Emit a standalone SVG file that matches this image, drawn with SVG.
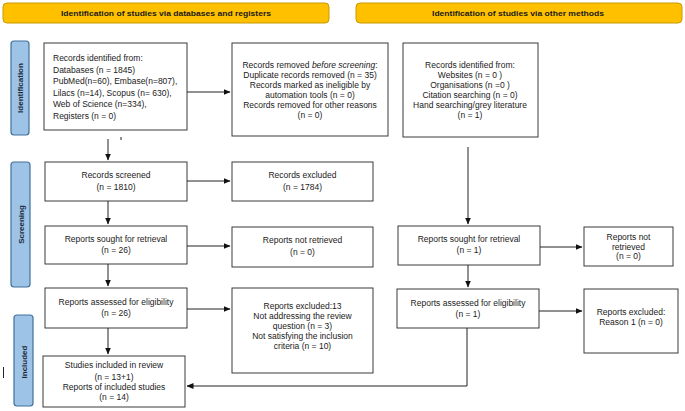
<svg xmlns="http://www.w3.org/2000/svg" width="685" height="411" viewBox="0 0 685 411">
<defs>
<marker id="ah" markerWidth="7" markerHeight="6" refX="6.5" refY="3" orient="auto" markerUnits="userSpaceOnUse">
<path d="M0,0 L7,3 L0,6 Z" fill="#111"/>
</marker>
<style>
.hdr{fill:#FFC000;stroke:#C99A00;stroke-width:1}
.hdrt{font-family:"Liberation Sans",Arial,sans-serif;font-weight:bold;font-size:8px;fill:#1a1a1a;text-anchor:middle}
.side{fill:#9DC3E6;stroke:#41719C;stroke-width:1.2}
.sidet{font-family:"Liberation Sans",Arial,sans-serif;font-weight:bold;font-size:8px;fill:#1f2a3a;text-anchor:middle}
.box{fill:#fff;stroke:#3a3a3a;stroke-width:1}
.t{font-family:"Liberation Sans",Arial,sans-serif;font-size:8.5px;fill:#1a1a1a;text-anchor:middle}
.tl{font-family:"Liberation Sans",Arial,sans-serif;font-size:8.5px;fill:#1a1a1a}
.c{fill:none;stroke:#222;stroke-width:1;marker-end:url(#ah)}
.cn{fill:none;stroke:#222;stroke-width:1}
</style>
</defs>
<rect width="685" height="411" fill="#fff"/>

<g id="header-left">
<rect class="hdr" x="3" y="3" width="326" height="20" rx="4"/>
<text class="hdrt" x="166" y="16" textLength="210" lengthAdjust="spacingAndGlyphs">Identification of studies via databases and registers</text>
</g>
<g id="header-right">
<rect class="hdr" x="356" y="3" width="326" height="20" rx="4"/>
<text class="hdrt" x="518" y="16" textLength="172" lengthAdjust="spacingAndGlyphs">Identification of studies via other methods</text>
</g>

<g id="label-identification">
<rect class="side" x="11" y="41" width="18" height="94" rx="3"/>
<text class="sidet" transform="translate(23,88) rotate(-90)">Identification</text>
</g>
<g id="label-screening">
<rect class="side" x="11" y="162" width="19" height="125" rx="3"/>
<text class="sidet" transform="translate(23.5,224.5) rotate(-90)">Screening</text>
</g>
<g id="label-included">
<rect class="side" x="14" y="315" width="19" height="91" rx="3"/>
<text class="sidet" transform="translate(26.5,362) rotate(-90)">Included</text>
</g>

<g id="records-identified">
<rect class="box" x="44" y="43" width="143" height="87"/>
<text class="tl" x="53" y="61">Records identified from:</text>
<text class="tl" x="53" y="72.5">Databases (n = 1845)</text>
<text class="tl" x="53" y="84">PubMed(n=60), Embase(n=807),</text>
<text class="tl" x="53" y="95.5">Lilacs (n=14), Scopus (n= 630),</text>
<text class="tl" x="53" y="107">Web of Science (n=334),</text>
<text class="tl" x="53" y="118.5">Registers (n = 0)</text>
</g>

<g id="records-removed">
<rect class="box" x="232" y="43" width="156" height="93"/>
<text class="t" x="310" y="68">Records removed <tspan font-style="italic">before screening</tspan>:</text>
<text class="t" x="310" y="78">Duplicate records removed (n = 35)</text>
<text class="t" x="310" y="88">Records marked as ineligible by</text>
<text class="t" x="310" y="98">automation tools (n = 0)</text>
<text class="t" x="310" y="108">Records removed for other reasons</text>
<text class="t" x="310" y="118">(n = 0)</text>
</g>

<g id="records-other">
<rect class="box" x="403" y="43" width="135" height="94"/>
<text class="t" x="470" y="68">Records identified from:</text>
<text class="t" x="470" y="78">Websites (n = 0 )</text>
<text class="t" x="470" y="88">Organisations (n =0 )</text>
<text class="t" x="470" y="98">Citation searching (n = 0)</text>
<text class="t" x="470" y="108">Hand searching/grey literature</text>
<text class="t" x="470" y="118">(n = 1)</text>
</g>

<g id="records-screened">
<rect class="box" x="45" y="162" width="142" height="39"/>
<text class="t" x="116" y="178">Records screened</text>
<text class="t" x="116" y="190">(n = 1810)</text>
</g>

<g id="records-excluded">
<rect class="box" x="232" y="162" width="141" height="39"/>
<text class="t" x="302.5" y="178">Records excluded</text>
<text class="t" x="302.5" y="190">(n = 1784)</text>
</g>

<g id="reports-sought">
<rect class="box" x="45" y="226" width="142" height="38"/>
<text class="t" x="116" y="242">Reports sought for retrieval</text>
<text class="t" x="116" y="253">(n = 26)</text>
</g>

<g id="reports-not-retrieved">
<rect class="box" x="232" y="227" width="141" height="40"/>
<text class="t" x="302.5" y="243">Reports not retrieved</text>
<text class="t" x="302.5" y="255">(n = 0)</text>
</g>

<g id="reports-sought-other">
<rect class="box" x="398" y="226" width="142" height="39"/>
<text class="t" x="469" y="242">Reports sought for retrieval</text>
<text class="t" x="469" y="253">(n = 1)</text>
</g>

<g id="reports-not-retrieved-other">
<rect class="box" x="584" y="227" width="89" height="39"/>
<text class="t" x="628.5" y="240">Reports not</text>
<text class="t" x="628.5" y="249.5">retrieved</text>
<text class="t" x="628.5" y="259">(n = 0)</text>
</g>

<g id="reports-assessed">
<rect class="box" x="45" y="288" width="142" height="40"/>
<text class="t" x="116" y="305">Reports assessed for eligibility</text>
<text class="t" x="116" y="316">(n = 26)</text>
</g>

<g id="reports-excluded">
<rect class="box" x="232" y="288" width="141" height="85"/>
<text class="t" x="302.5" y="309">Reports excluded:13</text>
<text class="t" x="302.5" y="319">Not addressing the review</text>
<text class="t" x="302.5" y="329">question (n = 3)</text>
<text class="t" x="302.5" y="339">Not satisfying the inclusion</text>
<text class="t" x="302.5" y="349">criteria (n = 10)</text>
</g>

<g id="reports-assessed-other">
<rect class="box" x="397" y="289" width="142" height="39"/>
<text class="t" x="468" y="306">Reports assessed for eligibility</text>
<text class="t" x="468" y="317">(n = 1)</text>
</g>

<g id="reports-excluded-other">
<rect class="box" x="584" y="289" width="94" height="64"/>
<text class="t" x="631" y="315">Reports excluded:</text>
<text class="t" x="631" y="325">Reason 1 (n = 0)</text>
</g>

<g id="studies-included">
<rect class="box" x="43" y="356" width="142" height="51"/>
<text class="t" x="114" y="368">Studies included in review</text>
<text class="t" x="114" y="380">(n = 13+1)</text>
<text class="t" x="114" y="390">Reports of included studies</text>
<text class="t" x="114" y="400">(n = 14)</text>
</g>

<g id="connectors">
<path class="c" d="M187,92 H230"/>
<path class="c" d="M108,139 V160"/>
<path class="c" d="M187,181 H230"/>
<path class="c" d="M108,201 V224"/>
<path class="c" d="M187,246 H230"/>
<path class="c" d="M108,264 V286"/>
<path class="c" d="M187,309 H230"/>
<path class="c" d="M108,328 V354"/>
<path class="c" d="M468,147 V224"/>
<path class="c" d="M540,247 H582"/>
<path class="c" d="M468,265 V287"/>
<path class="c" d="M539,311 H582"/>
<path class="c" d="M467,328 V386 H187"/>
</g>

<g id="marks">
<path class="cn" d="M121,137 V140"/>
<path class="cn" d="M3.5,367 V378"/>
</g>
</svg>
